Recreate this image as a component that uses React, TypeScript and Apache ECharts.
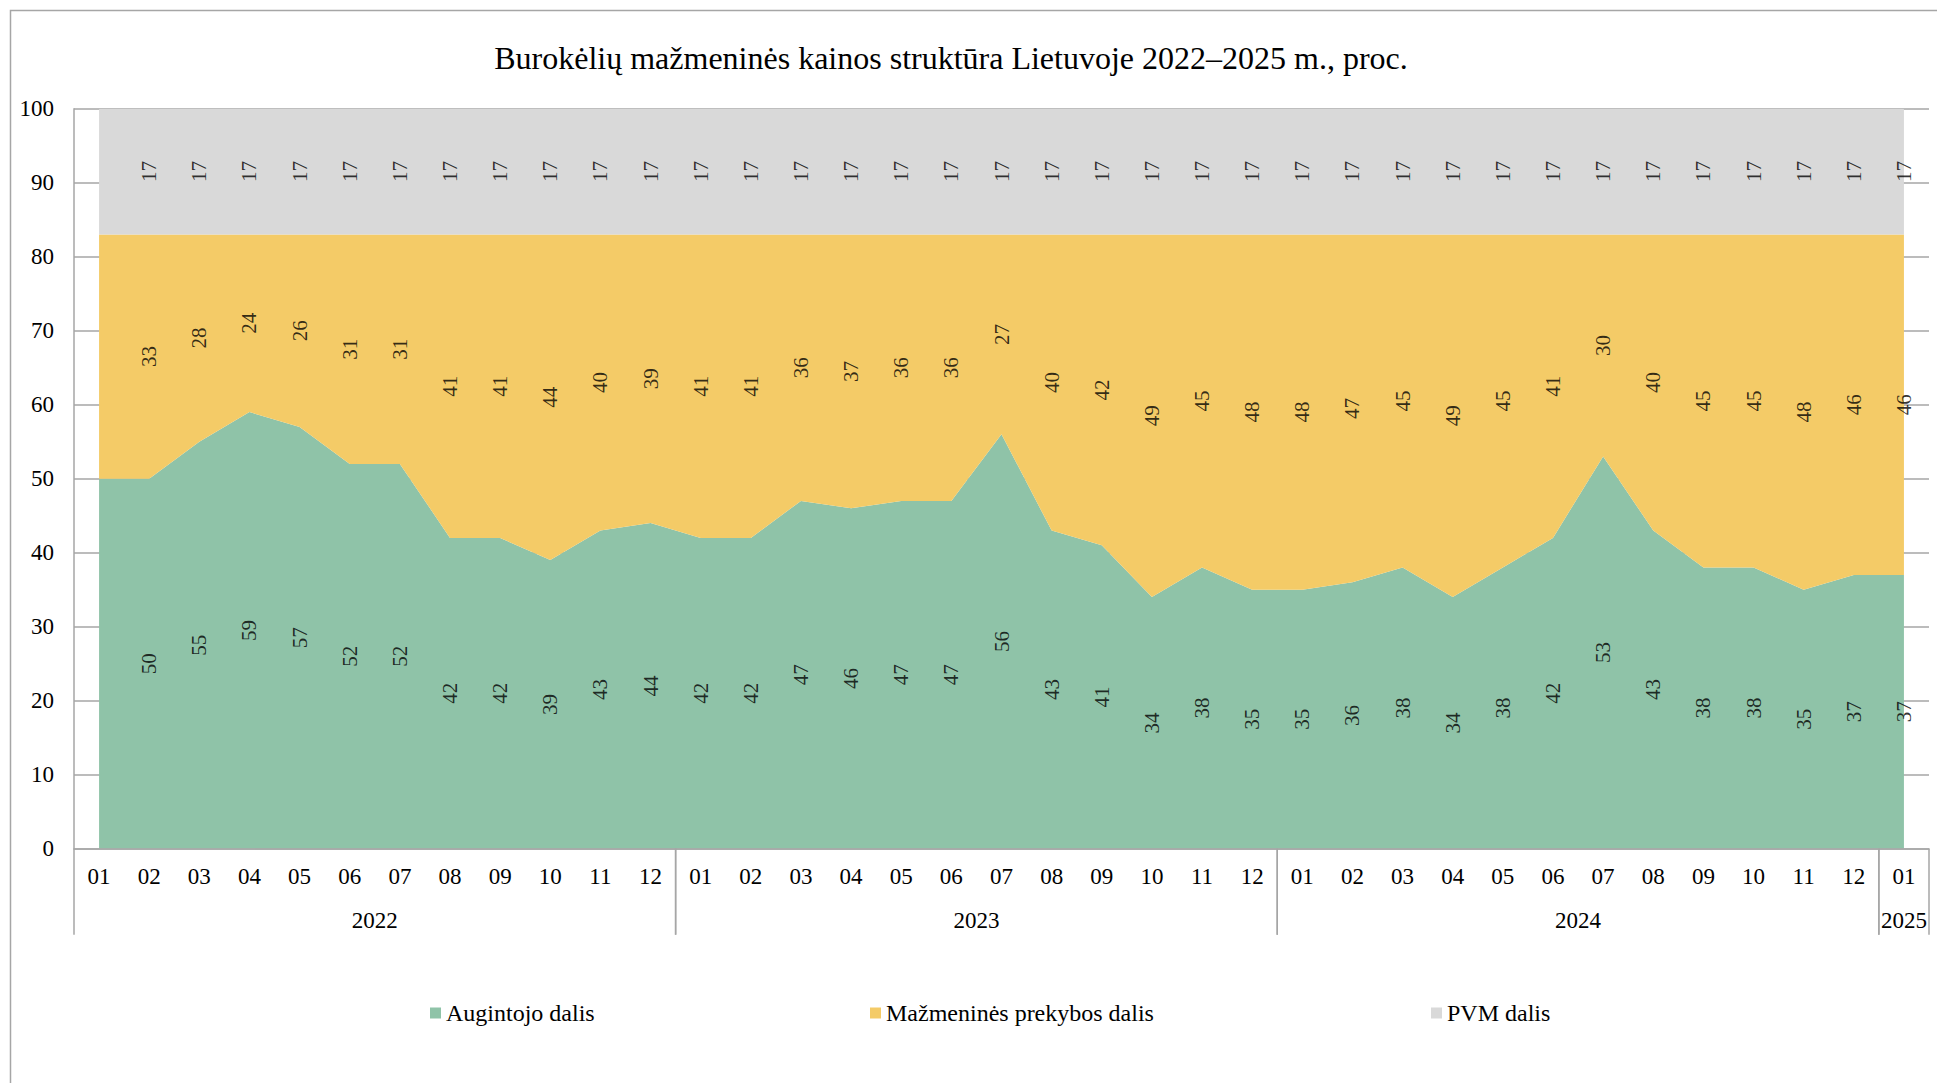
import React, { useEffect, useRef } from "react";
import * as echarts from "echarts";

const months = [
  "01", "02", "03", "04", "05", "06", "07", "08", "09", "10", "11", "12",
  "01", "02", "03", "04", "05", "06", "07", "08", "09", "10", "11", "12",
  "01", "02", "03", "04", "05", "06", "07", "08", "09", "10", "11", "12",
  "01",
];
const yearLabels = ["2022", "2023", "2024", "2025"];
const yearStart = [0, 12, 24, 36];
const yearEnd = [11, 23, 35, 36];

const seriesNames = ["Augintojo dalis", "Mažmeninės prekybos dalis", "PVM dalis"];

const grower = [
  50, 50, 55, 59, 57, 52, 52, 42, 42, 39, 43, 44,
  42, 42, 47, 46, 47, 47, 56, 43, 41, 34, 38, 35,
  35, 36, 38, 34, 38, 42, 53, 43, 38, 38, 35, 37,
  37,
];
const retail = [
  33, 33, 28, 24, 26, 31, 31, 41, 41, 44, 40, 39,
  41, 41, 36, 37, 36, 36, 27, 40, 42, 49, 45, 48,
  48, 47, 45, 49, 45, 41, 30, 40, 45, 45, 48, 46,
  46,
];
const vat = [
  17, 17, 17, 17, 17, 17, 17, 17, 17, 17, 17, 17,
  17, 17, 17, 17, 17, 17, 17, 17, 17, 17, 17, 17,
  17, 17, 17, 17, 17, 17, 17, 17, 17, 17, 17, 17,
  17,
];

const colors = ["#8FC3A8", "#F4CB67", "#D9D9D9"];

export default function App() {
  const ref = useRef<HTMLDivElement>(null);

  useEffect(() => {
    if (!ref.current) return;
    const chart = echarts.init(ref.current, null, { renderer: "svg" });
    const font = "'Liberation Serif', 'Times New Roman', serif";
    const gray = "#A6A6A6";

    const stacks = [grower, retail, vat];
    const bases: number[][] = [];
    let acc = grower.map(() => 0);
    stacks.forEach((s) => {
      bases.push(acc.slice());
      acc = acc.map((a, i) => a + s[i]);
    });

    const areaSeries = stacks.map((s, k) => ({
      name: seriesNames[k],
      type: "line",
      stack: "total",
      data: s,
      symbol: "none",
      lineStyle: { width: 0, color: colors[k] },
      itemStyle: { color: colors[k] },
      areaStyle: { color: colors[k], opacity: 1 },
      z: 2,
    }));

    const labelSeries = stacks.map((s, k) => ({
      name: "lbl" + k,
      type: "scatter",
      symbolSize: 0,
      silent: true,
      z: 5,
      data: s
        .map((v, i) => [i, bases[k][i] + v / 2, v])
        .filter((d) => d[0] > 0),
      label: {
        show: true,
        position: "inside",
        rotate: 90,
        formatter: (p: any) => String(p.value[2]),
        fontSize: 21,
        fontFamily: font,
        color: "#000",
      },
    }));

    const yearSeries = {
      name: "years",
      type: "custom",
      silent: true,
      clip: false,
      z: 6,
      data: yearLabels.map((_, k) => [yearStart[k], yearEnd[k]]),
      renderItem: (params: any, api: any) => {
        const s = api.value(0);
        const e = api.value(1);
        const bw = api.size([1, 0])[0];
        const p0 = api.coord([s, 0]);
        const p1 = api.coord([e, 0]);
        const x0 = p0[0] - bw / 2;
        const x1 = p1[0] + bw / 2;
        const yb = p0[1];
        return {
          type: "group",
          children: [
            {
              type: "line",
              shape: { x1: x0, y1: yb, x2: x0, y2: yb + 86 },
              style: { stroke: gray, lineWidth: 1.5 },
            },
            {
              type: "line",
              shape: { x1: x1, y1: yb, x2: x1, y2: yb + 86 },
              style: { stroke: gray, lineWidth: 1.5 },
            },
            {
              type: "text",
              style: {
                text: yearLabels[params.dataIndex],
                x: (x0 + x1) / 2,
                y: yb + 72,
                align: "center",
                verticalAlign: "middle",
                font: `23px ${font}`,
                fill: "#000",
              },
            },
          ],
        };
      },
    };

    const legendLefts = [430, 870, 1431];
    const legends = seriesNames.map((n, k) => ({
      data: [n],
      left: legendLefts[k],
      top: 1001,
      icon: "rect",
      itemWidth: 11,
      itemHeight: 11,
      padding: 0,
      selectedMode: false,
      textStyle: { fontSize: 24, fontFamily: font, color: "#000" },
    }));

    chart.setOption({
      animation: false,
      backgroundColor: "#fff",
      title: {
        text: "Burokėlių mažmeninės kainos struktūra Lietuvoje 2022–2025 m., proc.",
        left: 951,
        top: 42,
        textAlign: "center",
        padding: 0,
        textStyle: { fontSize: 32, fontWeight: "normal", fontFamily: font, color: "#000" },
      },
      legend: legends,
      grid: { left: 74, top: 108.7, right: 8, bottom: 234.3, containLabel: false },
      xAxis: {
        type: "category",
        data: months,
        boundaryGap: true,
        axisLine: { show: true, lineStyle: { color: gray, width: 1.5 } },
        axisTick: { show: false },
        axisLabel: { interval: 0, fontSize: 23, fontFamily: font, color: "#000", margin: 16 },
        splitLine: { show: false },
        z: 3,
      },
      yAxis: {
        type: "value",
        min: 0,
        max: 100,
        interval: 10,
        axisLine: { show: true, lineStyle: { color: gray, width: 1.5 } },
        axisTick: { show: false },
        axisLabel: { fontSize: 23, fontFamily: font, color: "#000", margin: 20 },
        splitLine: { show: true, lineStyle: { color: gray, width: 1.5 } },
      },
      graphic: [
        {
          type: "rect",
          silent: true,
          z: -10,
          shape: { x: 10.5, y: 10.5, width: 3000, height: 3000 },
          style: { fill: "none", stroke: gray, lineWidth: 1.5 },
        },
      ],
      series: [...areaSeries, ...labelSeries, yearSeries],
    });

    return () => chart.dispose();
  }, []);

  return (
    <div
      ref={ref}
      style={{ position: "fixed", left: 0, top: 0, width: 1937, height: 1083 }}
    />
  );
}
